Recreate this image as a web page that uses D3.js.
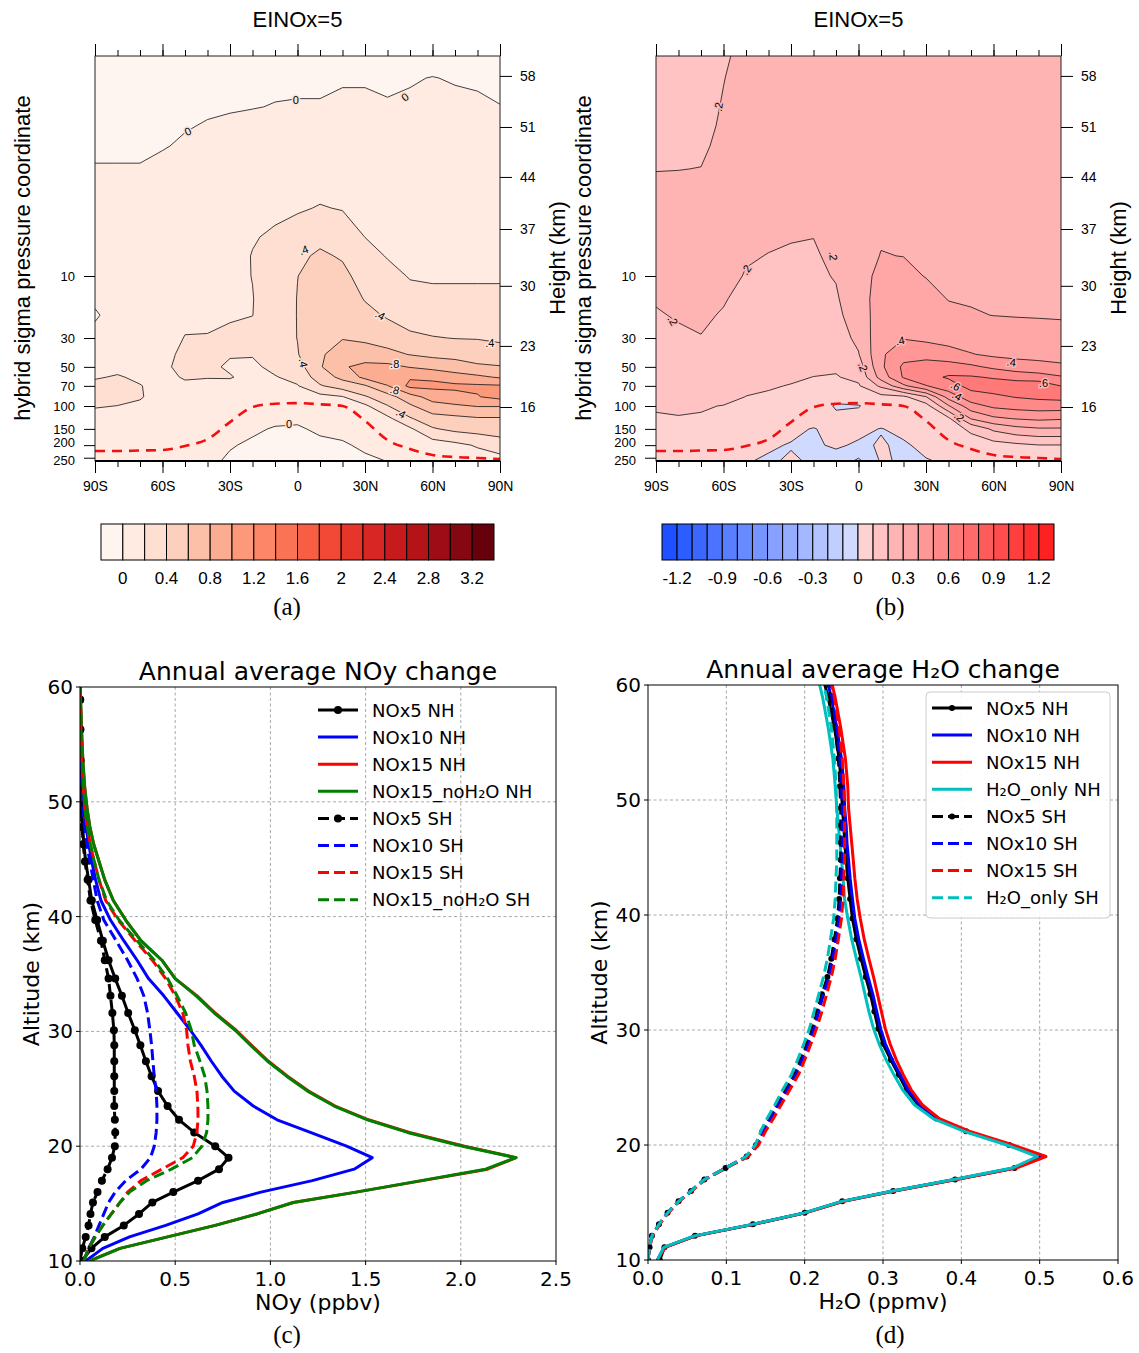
<!DOCTYPE html>
<html>
<head>
<meta charset="utf-8">
<script src="https://cdn.jsdelivr.net/npm/d3@7"></script>
<style>
  body { margin: 0; background: #fff; }
</style>
</head>
<body>
<div id="chart"></div>
<script>
var width = 1139, height = 1353;

// ---------------- zonal mean sections (a) and (b) ----------------
var lats = [-90, -80, -70, -60, -50, -40, -30, -20, -10, 0, 10, 20, 30, 40, 50, 60, 70, 80, 90];
var plevs = [0.2, 0.3, 0.5, 0.7, 1, 1.5, 2, 3, 5, 7, 10, 15, 20, 30, 40, 50, 60, 70, 85, 100, 125, 150, 200, 265];

// NOy change (ppbv), one row per pressure level, one column per latitude
var noyZonal = [
  [-0.08,-0.08,-0.08,-0.07,-0.06,-0.05,-0.04,-0.03,-0.03,-0.02,-0.02,-0.02,-0.02,-0.02,-0.02,-0.03,-0.04,-0.05,-0.05],
  [-0.06,-0.06,-0.06,-0.05,-0.04,-0.03,-0.02,-0.01,-0.01,-0.005,-0.005,-0.005,-0.005,-0.01,-0.005,0.002,-0.005,-0.01,-0.02],
  [-0.04,-0.04,-0.04,-0.03,-0.02,-0.01,-0.005,-0.002,0.002,0.002,0.002,0.01,0.01,0.005,0.01,0.02,0.015,0.012,0.002],
  [-0.03,-0.03,-0.03,-0.02,-0.005,0.005,0.01,0.015,0.02,0.03,0.03,0.03,0.03,0.03,0.03,0.035,0.03,0.03,0.03],
  [-0.015,-0.015,-0.015,-0.005,0.01,0.02,0.03,0.04,0.05,0.06,0.07,0.06,0.06,0.05,0.05,0.05,0.05,0.05,0.05],
  [0.005,0.005,0.005,0.02,0.03,0.04,0.05,0.07,0.09,0.1,0.12,0.1,0.09,0.08,0.08,0.07,0.07,0.07,0.075],
  [0.03,0.03,0.03,0.04,0.05,0.06,0.07,0.1,0.12,0.13,0.15,0.13,0.12,0.1,0.1,0.09,0.09,0.09,0.09],
  [0.06,0.06,0.06,0.07,0.08,0.09,0.1,0.14,0.17,0.18,0.21,0.19,0.16,0.14,0.13,0.12,0.12,0.12,0.12],
  [0.08,0.08,0.085,0.09,0.1,0.11,0.13,0.19,0.22,0.28,0.35,0.3,0.198,0.17,0.16,0.15,0.15,0.15,0.15],
  [0.08,0.09,0.095,0.1,0.12,0.13,0.15,0.205,0.26,0.36,0.43,0.38,0.26,0.19,0.18,0.17,0.17,0.17,0.17],
  [0.06,0.09,0.1,0.1,0.13,0.14,0.16,0.203,0.28,0.398,0.46,0.45,0.32,0.25,0.19,0.18,0.18,0.18,0.175],
  [0.03,0.08,0.1,0.11,0.15,0.16,0.18,0.195,0.29,0.405,0.48,0.5,0.39,0.32,0.25,0.24,0.24,0.24,0.25],
  [-0.02,0.07,0.1,0.12,0.17,0.18,0.19,0.198,0.3,0.405,0.5,0.54,0.45,0.38,0.31,0.29,0.29,0.29,0.3],
  [0.05,0.08,0.11,0.14,0.205,0.205,0.22,0.25,0.32,0.403,0.53,0.59,0.56,0.5,0.44,0.41,0.395,0.39,0.36],
  [0.1,0.12,0.12,0.16,0.23,0.24,0.21,0.21,0.29,0.39,0.57,0.7,0.7,0.66,0.59,0.55,0.53,0.51,0.5],
  [0.15,0.17,0.14,0.18,0.23,0.23,0.18,0.17,0.24,0.32,0.58,0.78,0.85,0.85,0.79,0.74,0.7,0.63,0.61],
  [0.19,0.21,0.18,0.17,0.21,0.205,0.21,0.15,0.19,0.25,0.5,0.65,0.85,0.95,0.98,0.96,0.88,0.84,0.78],
  [0.23,0.24,0.205,0.16,0.18,0.17,0.15,0.12,0.15,0.19,0.38,0.5,0.58,0.79,1.05,1.05,1.04,1.03,1.02],
  [0.23,0.24,0.21,0.15,0.16,0.15,0.13,0.09,0.11,0.14,0.14,0.19,0.38,0.52,0.72,0.88,0.94,0.99,1.06],
  [0.21,0.198,0.18,0.14,0.15,0.13,0.1,0.07,0.08,0.1,0.13,0.15,0.16,0.39,0.57,0.73,0.77,0.81,0.81],
  [0.15,0.15,0.14,0.12,0.13,0.1,0.06,0.04,0.03,0.03,0.08,0.1,0.12,0.15,0.38,0.52,0.55,0.58,0.58],
  [0.12,0.12,0.12,0.1,0.11,0.08,0.04,0.02,-0.01,-0.02,0.03,0.05,0.09,0.12,0.17,0.38,0.45,0.48,0.5],
  [0.1,0.1,0.1,0.08,0.09,0.05,0.01,-0.02,-0.05,-0.06,-0.04,-0.02,0.03,0.06,0.1,0.1,0.15,0.22,0.3],
  [0.08,0.08,0.08,0.06,0.07,0.03,-0.02,-0.05,-0.08,-0.1,-0.08,-0.06,-0.03,0.003,0.05,0.08,0.09,0.1,0.12]
];

// H2O change (ppmv), same grid
var h2oZonal = [
  [0.16,0.16,0.165,0.19,0.22,0.24,0.25,0.25,0.25,0.26,0.27,0.27,0.27,0.27,0.27,0.27,0.27,0.27,0.27],
  [0.165,0.165,0.17,0.198,0.225,0.245,0.25,0.25,0.25,0.26,0.27,0.27,0.27,0.27,0.27,0.27,0.27,0.27,0.27],
  [0.17,0.17,0.175,0.205,0.23,0.245,0.25,0.25,0.25,0.26,0.27,0.27,0.27,0.27,0.27,0.27,0.27,0.27,0.27],
  [0.175,0.175,0.18,0.21,0.235,0.245,0.25,0.25,0.25,0.26,0.27,0.27,0.27,0.27,0.27,0.27,0.27,0.27,0.27],
  [0.185,0.185,0.19,0.215,0.235,0.245,0.25,0.25,0.25,0.26,0.27,0.27,0.27,0.27,0.27,0.27,0.27,0.27,0.27],
  [0.198,0.199,0.201,0.22,0.235,0.24,0.245,0.25,0.25,0.26,0.275,0.27,0.27,0.27,0.27,0.27,0.27,0.27,0.27],
  [0.21,0.21,0.21,0.225,0.23,0.235,0.24,0.245,0.25,0.26,0.28,0.275,0.275,0.27,0.27,0.27,0.27,0.27,0.27],
  [0.22,0.22,0.22,0.23,0.225,0.225,0.23,0.235,0.245,0.26,0.285,0.28,0.28,0.275,0.275,0.275,0.275,0.275,0.275],
  [0.23,0.23,0.23,0.235,0.215,0.21,0.205,0.201,0.23,0.27,0.295,0.29,0.285,0.28,0.278,0.278,0.278,0.278,0.278],
  [0.23,0.23,0.235,0.235,0.207,0.198,0.19,0.19,0.22,0.275,0.302,0.299,0.29,0.285,0.28,0.28,0.28,0.28,0.28],
  [0.22,0.225,0.23,0.225,0.195,0.185,0.18,0.185,0.205,0.27,0.32,0.32,0.297,0.29,0.285,0.28,0.28,0.28,0.28],
  [0.205,0.215,0.22,0.205,0.18,0.17,0.17,0.18,0.19,0.26,0.34,0.35,0.33,0.297,0.295,0.29,0.29,0.288,0.285],
  [0.195,0.205,0.21,0.195,0.17,0.16,0.16,0.175,0.18,0.245,0.35,0.37,0.35,0.32,0.305,0.299,0.297,0.296,0.295],
  [0.18,0.19,0.198,0.18,0.16,0.15,0.15,0.165,0.16,0.22,0.37,0.395,0.38,0.37,0.35,0.34,0.33,0.325,0.32],
  [0.17,0.18,0.185,0.17,0.15,0.14,0.14,0.14,0.13,0.195,0.385,0.46,0.46,0.43,0.405,0.38,0.37,0.36,0.355],
  [0.16,0.165,0.17,0.16,0.14,0.13,0.125,0.115,0.11,0.15,0.38,0.52,0.55,0.55,0.52,0.48,0.45,0.44,0.42],
  [0.15,0.155,0.16,0.15,0.125,0.12,0.11,0.099,0.095,0.12,0.34,0.51,0.57,0.61,0.61,0.59,0.56,0.54,0.51],
  [0.14,0.145,0.15,0.135,0.112,0.106,0.097,0.085,0.07,0.09,0.22,0.38,0.495,0.56,0.63,0.65,0.66,0.67,0.598],
  [0.125,0.13,0.135,0.12,0.099,0.092,0.08,0.07,0.03,0.05,0.07,0.08,0.195,0.44,0.56,0.58,0.605,0.62,0.63],
  [0.11,0.115,0.105,0.098,0.09,0.08,0.06,0.06,-0.01,-0.005,0.05,0.05,0.06,0.29,0.46,0.52,0.54,0.55,0.55],
  [0.09,0.095,0.095,0.085,0.07,0.06,0.04,0.04,0.02,0.03,0.04,0.04,0.04,0.08,0.305,0.38,0.405,0.42,0.41],
  [0.08,0.08,0.08,0.075,0.05,0.04,0.02,-0.005,0.03,0.02,-0.003,0.02,0.03,0.05,0.12,0.22,0.27,0.29,0.29],
  [0.06,0.06,0.06,0.06,0.03,0.01,-0.005,-0.01,0.01,-0.01,0.005,-0.01,0.02,0.02,0.05,0.06,0.08,0.098,0.098],
  [0.04,0.04,0.04,0.04,0.005,-0.01,0.01,-0.01,-0.03,-0.12,0.01,-0.01,-0.005,0.01,0.02,0.03,0.04,0.05,0.05]
];

// tropopause pressure (hPa) at each latitude
var tropP = [222, 222, 220, 218, 203, 180, 133, 102, 96, 95, 97, 100, 130, 183, 214, 238, 247, 251, 256];

var pTicks = [10, 30, 50, 70, 100, 150, 200, 250];
var kmTicks = [16, 23, 30, 37, 44, 51, 58];
var kmTickP = [101.8, 34.5, 11.9, 4.35, 1.73, 0.714, 0.289];
var latTicks = [-90, -60, -30, 0, 30, 60, 90];
var latTickLabels = ["90S", "60S", "30S", "0", "30N", "60N", "90N"];
var noyLevels = [0, 0.2, 0.4, 0.6, 0.8, 1, 1.2, 1.4, 1.6, 1.8, 2, 2.2, 2.4, 2.6, 2.8, 3, 3.2];
var h2oLevels = [-1.2, -1.1, -1, -0.9, -0.8, -0.7, -0.6, -0.5, -0.4, -0.3, -0.2, -0.1, 0,
                 0.1, 0.2, 0.3, 0.4, 0.5, 0.6, 0.7, 0.8, 0.9, 1, 1.1, 1.2];

// ---------------- profiles (c) and (d) ----------------
var alt = [10.0, 11.1, 12.1, 13.1, 14.1, 15.1, 16.0, 17.0, 18.0, 19.0, 20.0, 21.2, 22.3, 23.5, 24.8, 26.1, 27.4, 28.8,
           30.1, 31.6, 33.1, 34.6, 36.2, 37.9, 39.7, 41.4, 43.2, 44.8, 46.3, 47.8, 49.3, 51.2, 53.6, 56.3, 58.9, 61.5];

var noyNOx5NH = [0.01,0.06,0.13,0.23,0.31,0.38,0.49,0.62,0.73,0.78,0.71,0.60,0.52,0.46,0.41,0.376,0.346,0.317,0.288,0.253,0.22,0.185,0.15,0.12,0.09,0.062,0.045,0.03,0.02,0.014,0.009,0.005,0.003,0.002,0.001,0];
var noyNOx10NH = [0.03,0.12,0.26,0.45,0.62,0.75,0.95,1.22,1.44,1.535,1.40,1.21,1.035,0.91,0.81,0.745,0.69,0.635,0.58,0.51,0.44,0.36,0.30,0.23,0.16,0.11,0.082,0.062,0.046,0.032,0.023,0.015,0.009,0.005,0.002,0];
var noyNOx15NH = [0.05,0.21,0.46,0.71,0.93,1.12,1.45,1.80,2.14,2.29,2.02,1.73,1.515,1.34,1.20,1.09,0.99,0.90,0.82,0.71,0.615,0.50,0.43,0.32,0.24,0.175,0.13,0.10,0.072,0.052,0.038,0.025,0.015,0.008,0.003,0.001];
var noyNOx15noH2ONH = [0.05,0.21,0.46,0.71,0.93,1.12,1.45,1.79,2.13,2.29,2.01,1.72,1.51,1.335,1.195,1.085,0.985,0.895,0.815,0.705,0.61,0.50,0.43,0.32,0.24,0.175,0.13,0.10,0.072,0.052,0.038,0.025,0.015,0.008,0.003,0.001];
var noyNOx5SH = [0,0.012,0.03,0.045,0.055,0.068,0.092,0.115,0.145,0.168,0.183,0.185,0.183,0.18,0.18,0.18,0.18,0.18,0.178,0.17,0.16,0.15,0.13,0.11,0.08,0.055,0.04,0.026,0.017,0.011,0.007,0.004,0.002,0.001,0.001,0];
var noyNOx10SH = [0.02,0.045,0.075,0.10,0.125,0.15,0.185,0.24,0.32,0.37,0.39,0.40,0.404,0.404,0.40,0.39,0.383,0.376,0.367,0.355,0.335,0.30,0.25,0.19,0.125,0.09,0.07,0.052,0.036,0.024,0.016,0.01,0.006,0.003,0.001,0];
var noyNOx15SH = [0.02,0.045,0.08,0.12,0.165,0.21,0.25,0.32,0.43,0.54,0.595,0.614,0.62,0.619,0.614,0.60,0.58,0.567,0.56,0.54,0.50,0.45,0.38,0.29,0.20,0.135,0.10,0.075,0.054,0.038,0.026,0.017,0.01,0.005,0.002,0];
var noyNOx15noH2OSH = [0.02,0.045,0.08,0.12,0.165,0.21,0.26,0.35,0.48,0.59,0.64,0.665,0.672,0.672,0.667,0.655,0.63,0.60,0.585,0.555,0.51,0.46,0.39,0.30,0.205,0.14,0.10,0.075,0.055,0.039,0.027,0.018,0.011,0.005,0.002,0];

var h2oNOx5NH = [0.015,0.021,0.06,0.134,0.2,0.248,0.313,0.392,0.468,0.50,0.461,0.406,0.368,0.345,0.33,0.32,0.31,0.30,0.294,0.289,0.284,0.278,0.272,0.266,0.261,0.258,0.255,0.253,0.251,0.25,0.248,0.247,0.244,0.238,0.23,0.22];
var h2oNOx10NH = [0.012,0.021,0.06,0.134,0.2,0.248,0.313,0.392,0.468,0.502,0.462,0.407,0.369,0.347,0.332,0.322,0.312,0.303,0.297,0.292,0.287,0.281,0.275,0.269,0.264,0.261,0.258,0.256,0.254,0.253,0.251,0.25,0.247,0.241,0.234,0.225];
var h2oNOx15NH = [0.012,0.022,0.061,0.135,0.201,0.25,0.315,0.394,0.47,0.508,0.466,0.41,0.372,0.35,0.336,0.326,0.317,0.309,0.303,0.298,0.293,0.288,0.282,0.276,0.271,0.267,0.264,0.262,0.26,0.258,0.256,0.255,0.252,0.246,0.239,0.23];
var h2oOnlyNH = [0.012,0.02,0.059,0.133,0.199,0.247,0.312,0.39,0.465,0.497,0.458,0.403,0.364,0.34,0.325,0.314,0.304,0.295,0.288,0.282,0.277,0.272,0.266,0.26,0.255,0.251,0.249,0.247,0.245,0.243,0.241,0.239,0.236,0.23,0.223,0.214];
var h2oNOx5SH = [0,0.002,0.005,0.014,0.025,0.039,0.055,0.072,0.099,0.126,0.138,0.146,0.155,0.165,0.176,0.187,0.195,0.203,0.21,0.216,0.222,0.229,0.234,0.238,0.242,0.244,0.245,0.246,0.246,0.246,0.246,0.245,0.243,0.239,0.233,0.225];
var h2oNOx10SH = [0,0.002,0.005,0.014,0.025,0.039,0.055,0.072,0.099,0.126,0.139,0.147,0.157,0.167,0.178,0.189,0.197,0.205,0.212,0.218,0.224,0.231,0.236,0.24,0.244,0.246,0.247,0.248,0.248,0.248,0.248,0.247,0.245,0.241,0.235,0.227];
var h2oNOx15SH = [0,0.002,0.006,0.015,0.026,0.04,0.056,0.073,0.1,0.128,0.141,0.15,0.16,0.17,0.181,0.192,0.2,0.208,0.215,0.222,0.228,0.234,0.239,0.243,0.247,0.249,0.25,0.251,0.251,0.251,0.251,0.25,0.248,0.244,0.238,0.23];
var h2oOnlySH = [0,0.002,0.005,0.014,0.025,0.039,0.055,0.072,0.099,0.125,0.137,0.144,0.152,0.162,0.172,0.183,0.191,0.199,0.206,0.212,0.218,0.224,0.229,0.233,0.237,0.239,0.24,0.241,0.241,0.241,0.241,0.24,0.238,0.234,0.228,0.22];

var altTicks = [10, 20, 30, 40, 50, 60];
var noyTicks = [0, 0.5, 1.0, 1.5, 2.0, 2.5];
var h2oTicks = [0, 0.1, 0.2, 0.3, 0.4, 0.5, 0.6];

// ---------------------------------------------------------------
var sans = "'Liberation Sans', Arial, Helvetica, sans-serif",
    dejavu = "'DejaVu Sans', sans-serif",
    serif = "'Liberation Serif', 'Times New Roman', serif";

var svg = d3.select("#chart").append("svg")
    .attr("width", width)
    .attr("height", height);

svg.append("rect").attr("width", width).attr("height", height).attr("fill", "#fff");

var redsA = d3.quantize(d3.interpolateReds, 18);
var colorsB = d3.range(13).map(function(i) { return d3.interpolateRgb("rgb(30,80,255)", "rgb(208,218,255)")(i / 12); })
    .concat(d3.range(13).map(function(i) { return d3.interpolateRgb("rgb(255,210,210)", "rgb(255,32,32)")(i / 12); }));

// contour labels: [lat, hPa, text, angle]
var labelsA = [[-48.7, 0.77, "0", -25], [-0.7, 0.44, "0", 0], [47.8, 0.42, "0", -35], [2.7, 6.3, ".4", -20],
  [36.8, 20, ".4", 30], [85.5, 32.8, ".4", 0], [2.7, 46.6, ".4", 80], [43.2, 47.5, ".8", 0],
  [43.2, 75, ".8", 15], [46, 114, ".4", 30], [-3.8, 137, "0", 0]];
var labelsB = [[-62.3, 0.5, ".2", -80], [-82.5, 22, ".2", 60], [-49.9, 8.96, ".2", -55], [-11.2, 7.0, ".2", 85],
  [2, 50, ".2", 70], [18.5, 31.3, ".4", -10], [67.9, 45.9, ".4", 5], [82.2, 67, ".6", 0],
  [43.2, 70, ".6", 30], [43.8, 83.6, ".4", 30], [44.8, 121, ".2", 40]];

drawSection("secA", 95, noyZonal, noyLevels, redsA, labelsA, "#fde2d6");
drawSection("secB", 656, h2oZonal, h2oLevels, colorsB, labelsB, "#fdb6b6");
drawColorbar(101, 494, redsA, noyLevels, 2);
drawColorbar(662, 1054, colorsB, h2oLevels, 3);

caption("(a)", 287, 615);
caption("(b)", 890, 615);
caption("(c)", 287, 1343);
caption("(d)", 890, 1343);

drawProfile({
  left: 80, right: 556, top: 687, bottom: 1261,
  xDomain: [0, 2.5], xTicks: noyTicks,
  title: "Annual average NOy change", xLabel: "NOy (ppbv)",
  series: [
    {name: "NOx5 NH", values: noyNOx5NH, color: "#000", dot: true},
    {name: "NOx10 NH", values: noyNOx10NH, color: "#0000ff"},
    {name: "NOx15 NH", values: noyNOx15NH, color: "#ff0000"},
    {name: "NOx15_noH\u2082O NH", values: noyNOx15noH2ONH, color: "#008000"},
    {name: "NOx5 SH", values: noyNOx5SH, color: "#000", dot: true, dash: true},
    {name: "NOx10 SH", values: noyNOx10SH, color: "#0000ff", dash: true},
    {name: "NOx15 SH", values: noyNOx15SH, color: "#ff0000", dash: true},
    {name: "NOx15_noH\u2082O SH", values: noyNOx15noH2OSH, color: "#008000", dash: true}
  ],
  legend: {x: 318, y: 710, dy: 27.1, box: false},
  dotR: 4
});

drawProfile({
  left: 648, right: 1118, top: 685, bottom: 1260,
  xDomain: [0, 0.6], xTicks: h2oTicks,
  title: "Annual average H\u2082O change", xLabel: "H\u2082O (ppmv)",
  series: [
    {name: "NOx5 NH", values: h2oNOx5NH, color: "#000", dot: true},
    {name: "NOx10 NH", values: h2oNOx10NH, color: "#0000ff"},
    {name: "NOx15 NH", values: h2oNOx15NH, color: "#ff0000"},
    {name: "H\u2082O_only NH", values: h2oOnlyNH, color: "#00bfbf"},
    {name: "NOx5 SH", values: h2oNOx5SH, color: "#000", dot: true, dash: true},
    {name: "NOx10 SH", values: h2oNOx10SH, color: "#0000ff", dash: true},
    {name: "NOx15 SH", values: h2oNOx15SH, color: "#ff0000", dash: true},
    {name: "H\u2082O_only SH", values: h2oOnlySH, color: "#00bfbf", dash: true}
  ],
  legend: {x: 932, y: 708, dy: 27.1, box: [926, 692, 184, 226]},
  dotR: 3
});

function caption(t, x, y) {
  svg.append("text").attr("x", x).attr("y", y).attr("text-anchor", "middle")
      .style("font-family", serif).style("font-size", "25px").text(t);
}

function drawSection(id, left, grid, levels, colors, labels, halo) {
  var plotW = 405, top = 56, bottom = 461;
  var x = d3.scaleLinear().domain([-90, 90]).range([left, left + plotW]);
  var y = d3.scaleLog().domain([10, 100]).range([276, 406]);
  var g = svg.append("g").attr("id", id);

  g.append("clipPath").attr("id", id + "-clip").append("rect")
      .attr("x", left).attr("y", top).attr("width", plotW).attr("height", bottom - top);
  var plot = g.append("g").attr("clip-path", "url(#" + id + "-clip)");

  plot.append("rect").attr("x", left).attr("y", top).attr("width", plotW).attr("height", bottom - top)
      .attr("fill", colors[0]);

  var n = lats.length, m = plevs.length;
  var gx = d3.scaleLinear().domain(d3.range(n)).range(lats.map(x));
  var gy = d3.scaleLinear().domain(d3.range(m)).range(plevs.map(function(p) { return y(p); }));
  var path = d3.geoPath(d3.geoTransform({
    point: function(px, py) { this.stream.point(gx(px - 0.5), gy(py - 0.5)); }
  }));
  var bands = d3.contours().size([n, m]).thresholds(levels)(d3.merge(grid));

  plot.selectAll("path.band").data(bands).enter().append("path")
      .attr("class", "band")
      .attr("d", path)
      .attr("fill-rule", "evenodd")
      .attr("fill", function(d) { return colors[levels.indexOf(d.value) + 1]; });

  plot.selectAll("path.iso").data(bands).enter().append("path")
      .attr("class", "iso")
      .attr("d", path)
      .attr("fill", "none")
      .attr("stroke", "#111")
      .attr("stroke-width", 0.8);

  // tropopause
  var trop = d3.line()
      .x(function(d, i) { return x(lats[i]); })
      .y(function(d) { return y(d); })
      .curve(d3.curveMonotoneX);
  plot.append("path").datum(tropP).attr("d", trop)
      .attr("fill", "none").attr("stroke", "#f01010").attr("stroke-width", 2.6)
      .attr("stroke-dasharray", "10,7");

  // contour labels
  plot.selectAll("text.lab").data(labels).enter().append("text")
      .attr("class", "lab")
      .attr("transform", function(d) { return "translate(" + x(d[0]) + "," + y(d[1]) + ") rotate(" + d[3] + ")"; })
      .attr("text-anchor", "middle")
      .attr("dominant-baseline", "central")
      .attr("paint-order", "stroke")
      .attr("stroke", halo).attr("stroke-width", 3)
      .style("font-family", sans).style("font-size", "11px")
      .text(function(d) { return d[2]; });

  // frame
  g.append("rect").attr("x", left).attr("y", top).attr("width", plotW).attr("height", bottom - top)
      .attr("fill", "none").attr("stroke", "#222").attr("stroke-width", 1);
  g.append("line").attr("x1", left).attr("x2", left + plotW).attr("y1", bottom).attr("y2", bottom)
      .attr("stroke", "#000").attr("stroke-width", 2);

  function tidy(sel) {
    sel.select(".domain").remove();
    sel.selectAll("line").attr("stroke", "#000");
    sel.selectAll("text").style("font-family", sans).style("font-size", "14px").attr("fill", "#000");
  }
  var minor = d3.range(-90, 91, 10);
  g.append("g").attr("transform", "translate(0," + top + ")")
      .call(d3.axisTop(x).tickValues(minor).tickSize(6).tickFormat("")).call(tidy);
  g.append("g").attr("transform", "translate(0," + top + ")")
      .call(d3.axisTop(x).tickValues(latTicks).tickSize(12).tickFormat("")).call(tidy);
  g.append("g").attr("transform", "translate(0," + bottom + ")")
      .call(d3.axisBottom(x).tickValues(minor).tickSize(6).tickFormat("")).call(tidy);
  g.append("g").attr("transform", "translate(0," + bottom + ")")
      .call(d3.axisBottom(x).tickValues(latTicks).tickSize(12).tickPadding(8)
        .tickFormat(function(d, i) { return latTickLabels[i]; })).call(tidy);
  var pAxis = g.append("g").attr("transform", "translate(" + left + ",0)")
      .call(d3.axisLeft(y).tickValues(pTicks).tickSize(11).tickPadding(9)
        .tickFormat(function(d) { return d; })).call(tidy);
  // the two lowest levels sit close together: nudge them apart a little
  pAxis.selectAll("text").style("font-size", "13px")
      .attr("dy", function(d) { return d === 200 ? "0.12em" : d === 250 ? "0.5em" : "0.32em"; });
  g.append("g").attr("transform", "translate(" + (left + plotW) + ",0)")
      .call(d3.axisRight(y).tickValues(kmTickP).tickSize(12).tickPadding(8)
        .tickFormat(function(d, i) { return kmTicks[i]; })).call(tidy);

  g.append("text").attr("x", left + plotW / 2).attr("y", 27).attr("text-anchor", "middle")
      .style("font-family", sans).style("font-size", "22px").text("EINOx=5");
  g.append("text").attr("transform", "translate(" + (left - 65) + ",258) rotate(-90)")
      .attr("text-anchor", "middle")
      .style("font-family", sans).style("font-size", "22px").text("hybrid sigma pressure coordinate");
  g.append("text").attr("transform", "translate(" + (left + plotW + 65) + ",258) rotate(-90)")
      .attr("text-anchor", "middle")
      .style("font-family", sans).style("font-size", "22px").text("Height (km)");
}

function drawColorbar(x0, x1, colors, levels, every) {
  var cx = d3.scaleLinear().domain([0, colors.length]).range([x0, x1]);
  var cb = svg.append("g");
  cb.selectAll("rect").data(colors).enter().append("rect")
      .attr("x", function(d, i) { return cx(i); })
      .attr("y", 524)
      .attr("width", cx(1) - cx(0))
      .attr("height", 36)
      .attr("fill", function(d) { return d; })
      .attr("stroke", "#000")
      .attr("stroke-width", 1);
  cb.selectAll("text").data(levels.filter(function(d, i) { return i % every === 0; })).enter().append("text")
      .attr("x", function(d) { return cx(levels.indexOf(d) + 1); })
      .attr("y", 584)
      .attr("text-anchor", "middle")
      .style("font-family", sans).style("font-size", "17px")
      .text(function(d) { return String(+d.toFixed(1)); });
}

function drawProfile(o) {
  var x = d3.scaleLinear().domain(o.xDomain).range([o.left, o.right]);
  var y = d3.scaleLinear().domain([10, 60]).range([o.bottom, o.top]);
  var g = svg.append("g");
  var clipId = "clip" + o.left;

  // grid
  g.selectAll("line.gx").data(o.xTicks.slice(1, -1)).enter().append("line")
      .attr("x1", x).attr("x2", x).attr("y1", o.top).attr("y2", o.bottom)
      .attr("stroke", "#a8a8a8").attr("stroke-width", 1).attr("stroke-dasharray", "3,2.5");
  g.selectAll("line.gy").data(altTicks.slice(1, -1)).enter().append("line")
      .attr("y1", y).attr("y2", y).attr("x1", o.left).attr("x2", o.right)
      .attr("stroke", "#a8a8a8").attr("stroke-width", 1).attr("stroke-dasharray", "3,2.5");

  g.append("clipPath").attr("id", clipId).append("rect")
      .attr("x", o.left).attr("y", o.top).attr("width", o.right - o.left).attr("height", o.bottom - o.top);
  var plot = g.append("g").attr("clip-path", "url(#" + clipId + ")");

  var line = d3.line()
      .x(function(d) { return x(d[0]); })
      .y(function(d) { return y(d[1]); });

  o.series.forEach(function(s) {
    var pts = s.values.map(function(v, i) { return [v, alt[i]]; });
    plot.append("path").datum(pts).attr("d", line)
        .attr("fill", "none").attr("stroke", s.color).attr("stroke-width", 3)
        .attr("stroke-linejoin", "round")
        .attr("stroke-dasharray", s.dash ? "11,5" : null);
    if (s.dot) {
      plot.selectAll(null).data(pts).enter().append("circle")
          .attr("cx", function(d) { return x(d[0]); })
          .attr("cy", function(d) { return y(d[1]); })
          .attr("r", o.dotR).attr("fill", s.color);
    }
  });

  g.append("rect").attr("x", o.left).attr("y", o.top)
      .attr("width", o.right - o.left).attr("height", o.bottom - o.top)
      .attr("fill", "none").attr("stroke", "#000").attr("stroke-width", 1);

  // ticks + labels
  g.selectAll("line.tx").data(o.xTicks).enter().append("line")
      .attr("x1", x).attr("x2", x).attr("y1", o.bottom).attr("y2", o.bottom + 4).attr("stroke", "#000");
  g.selectAll("line.ty").data(altTicks).enter().append("line")
      .attr("y1", y).attr("y2", y).attr("x1", o.left - 4).attr("x2", o.left).attr("stroke", "#000");
  g.selectAll("text.tx").data(o.xTicks).enter().append("text")
      .attr("x", x).attr("y", o.bottom + 25).attr("text-anchor", "middle")
      .style("font-family", dejavu).style("font-size", "20px")
      .text(d3.format(".1f"));
  g.selectAll("text.ty").data(altTicks).enter().append("text")
      .attr("x", o.left - 7).attr("y", function(d) { return y(d) + 7; }).attr("text-anchor", "end")
      .style("font-family", dejavu).style("font-size", "20px")
      .text(function(d) { return d; });

  var cxm = (o.left + o.right) / 2;
  g.append("text").attr("x", cxm).attr("y", o.top - 7).attr("text-anchor", "middle")
      .style("font-family", dejavu).style("font-size", "25px").text(o.title);
  g.append("text").attr("x", cxm).attr("y", o.bottom + 49).attr("text-anchor", "middle")
      .style("font-family", dejavu).style("font-size", "22px").text(o.xLabel);
  g.append("text").attr("transform", "translate(" + (o.left - 41) + "," + ((o.top + o.bottom) / 2) + ") rotate(-90)")
      .attr("text-anchor", "middle")
      .style("font-family", dejavu).style("font-size", "22px").text("Altitude (km)");

  // legend
  var lg = g.append("g");
  if (o.legend.box) {
    var b = o.legend.box;
    lg.append("rect").attr("x", b[0]).attr("y", b[1]).attr("width", b[2]).attr("height", b[3])
        .attr("rx", 4).attr("fill", "#fff").attr("fill-opacity", 0.9)
        .attr("stroke", "#cccccc").attr("stroke-width", 1);
  }
  o.series.forEach(function(s, i) {
    var ly = o.legend.y + i * o.legend.dy;
    lg.append("line").attr("x1", o.legend.x).attr("x2", o.legend.x + 40).attr("y1", ly).attr("y2", ly)
        .attr("stroke", s.color).attr("stroke-width", 3)
        .attr("stroke-dasharray", s.dash ? "11,5" : null);
    if (s.dot) lg.append("circle").attr("cx", o.legend.x + 20).attr("cy", ly).attr("r", o.dotR).attr("fill", s.color);
    lg.append("text").attr("x", o.legend.x + 54).attr("y", ly).attr("dominant-baseline", "central")
        .style("font-family", dejavu).style("font-size", "18px").text(s.name);
  });
}
</script>
</body>
</html>
